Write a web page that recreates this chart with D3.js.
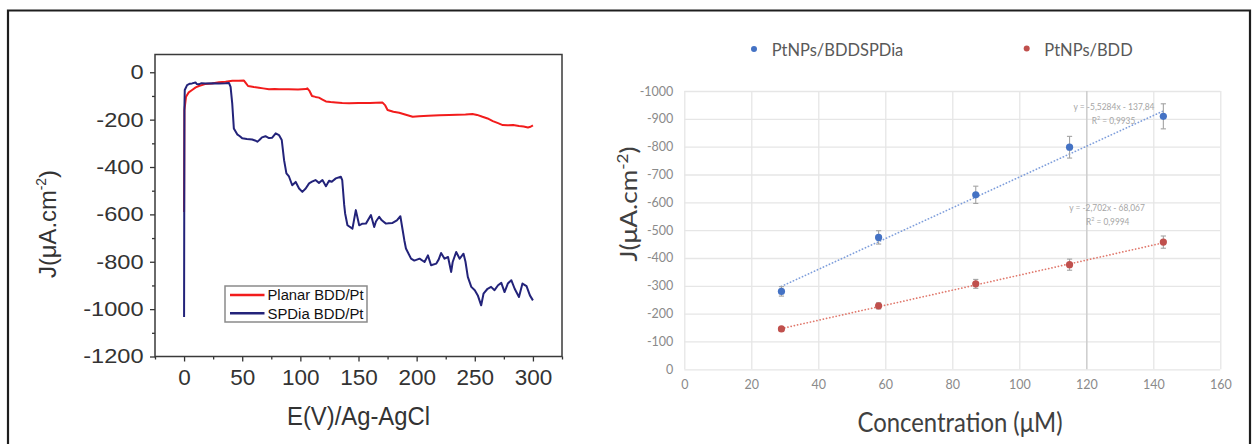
<!DOCTYPE html>
<html><head><meta charset="utf-8">
<script src="https://cdn.jsdelivr.net/npm/d3@7"></script>
<style>body{margin:0;background:#fff}svg{display:block}</style>
</head><body>
<svg id="c" width="1255" height="444"></svg>
<script>
// ---------- Left chart data ----------
const leftSeries = ["Planar BDD/Pt", "SPDia BDD/Pt"];
const planarX = [0,0.3,1.7,4,6.9,10,12.7,18,24,30,35.7,41.5,47,51.5,53,55,60,64.4,68,73,78,81.6,90,98,104.6,106,108,110,113,116,119,122,126,130.5,136,142,150,160,165,170.7,173,175,180,185,190,196.6,202,210,219.6,228,235,242,248,252,256.6,261,265.5,270,274,278,283,288,292,295.7,298,300];
const planarY = [-590,-160,-103,-85,-75,-64,-58,-50,-47,-42,-40,-36,-36,-35,-45,-58,-62,-65,-68,-72,-71,-72,-72,-73,-71,-68,-80,-100,-104,-107,-115,-123,-126,-128,-130,-131,-130,-130,-129,-128,-140,-159,-167,-171,-178,-188,-186,-184,-182,-180,-179,-178,-176,-180,-188,-195,-206,-215,-223,-224,-223,-227,-229,-233,-230,-224];
const spdiaX = [0,0.3,0.6,2.6,5,6.9,9.8,11,12.7,15,18.5,25,30,35.7,38.6,40,41.4,42.8,45.7,48,50,54,58.6,61,63,65,67,70,73,75.8,78.8,81.6,84,86,88,90.2,93,96,98.9,101.7,104.6,107.5,110,113,116,119,122,124.7,127,130.5,134.8,136,137.7,138.5,140.5,144.8,147.7,150.6,153,156.4,160.7,163.5,165,167.8,170,173.6,176,179.3,183,186,188,189.4,190.8,195.2,198,202.5,206.8,209.7,212.4,216.8,219,221,224,227,229.7,231,234,237,240.3,242,244,247,250,252.6,255.5,257.5,261,264,267,270,272.8,275.6,278.4,281.4,284.3,288,291,294.5,297.4,300];
const spdiaY = [-1033,-150,-75,-54,-48,-47,-43,-50,-51,-46,-47,-46,-47,-46,-45,-62,-131,-237,-262,-270,-279,-282,-284,-288,-293,-285,-275,-270,-278,-276,-258,-265,-286,-371,-427,-440,-477,-463,-491,-505,-491,-469,-462,-455,-467,-455,-481,-458,-462,-448,-441,-455,-560,-596,-646,-660,-582,-646,-640,-639,-603,-653,-630,-610,-625,-639,-637,-636,-625,-608,-667,-709,-744,-787,-795,-787,-801,-773,-815,-808,-790,-763,-787,-780,-843,-801,-759,-787,-766,-800,-864,-906,-920,-942,-984,-935,-914,-906,-920,-899,-889,-928,-892,-878,-914,-949,-892,-903,-942,-963];
const leftYTicks = [-1200,-1000,-800,-600,-400,-200,0];
const leftYMinor = [-1100,-900,-700,-500,-300,-100];
const leftXTicks = [0,50,100,150,200,250,300];
const leftXMinor = [-25,25,75,125,175,225,275,325];

// ---------- Right chart data ----------
const rightSeries = ["PtNPs/BDDSPDia", "PtNPs/BDD"];
const conc = [29,58,87,115,143];
const spdiaJ = [-280,-474,-627,-798,-909];
const spdiaErr = [17,24,31,39,45];
const bddJ = [-145,-228,-307,-376,-457];
const bddErr = [7,11,16,20,22];
const fitSlope = [-5.5284, -2.702];
const fitIntercept = [-137.84, -68.067];
const fitEq = ["y = -5,5284x - 137,84", "y = -2,702x - 68,067"];
const fitR2 = ["0,9935", "0,9994"];
const rightYTicks = [0,-100,-200,-300,-400,-500,-600,-700,-800,-900,-1000];
const rightXTicks = [0,20,40,60,80,100,120,140,160];

const svg = d3.select("#c");
const LF = "'Liberation Sans', Arial, sans-serif";
const RF = "Lato, 'Open Sans', sans-serif";

// outer frame
svg.append("path").attr("d","M8,444 V10.5 H1250 V444").attr("fill","none").attr("stroke","#1e1e1e").attr("stroke-width",2.2);

// ================= LEFT CHART =================
const xL = d3.scaleLinear([-25,325],[155,562]);
const yL = d3.scaleLinear([-1200,75],[356.5,54.5]);
const gL = svg.append("g");

const yAx = gL.append("g").attr("transform","translate(155,0)")
  .call(d3.axisLeft(yL).tickValues(leftYTicks).tickSize(5).tickPadding(6.5).tickFormat(d=>String(d)));
gL.append("g").attr("transform","translate(155,0)")
  .call(d3.axisLeft(yL).tickValues(leftYMinor).tickSize(3).tickFormat(""));
const xAx = gL.append("g").attr("transform","translate(0,356.5)")
  .call(d3.axisBottom(xL).tickValues(leftXTicks).tickSize(5).tickPadding(8).tickFormat(d=>String(d)));
gL.append("g").attr("transform","translate(0,356.5)")
  .call(d3.axisBottom(xL).tickValues(leftXMinor).tickSize(3).tickFormat(""));
gL.selectAll(".domain").remove();
gL.selectAll(".tick line").attr("stroke","#333").attr("stroke-width",1.3);
yAx.selectAll("text").attr("font-family",LF).attr("font-size",20).attr("fill","#333")
  .each(function(){ const w=this.getComputedTextLength(); d3.select(this).attr("textLength",w*1.18).attr("lengthAdjust","spacingAndGlyphs"); });
xAx.selectAll("text").attr("font-family",LF).attr("font-size",22.5).attr("fill","#333");

gL.append("rect").attr("x",xL(-25)).attr("y",yL(75)).attr("width",xL(325)-xL(-25)).attr("height",yL(-1200)-yL(75))
  .attr("fill","none").attr("stroke","#3a3a3a").attr("stroke-width",1.5);

const lineL = (X,Y)=>d3.line().x(i=>xL(X[i])).y(i=>yL(Y[i]))(d3.range(X.length));
gL.append("path").attr("d",lineL(planarX,planarY)).attr("fill","none").attr("stroke","#f21c1c").attr("stroke-width",2).attr("stroke-linejoin","round");
gL.append("path").attr("d",lineL(spdiaX,spdiaY)).attr("fill","none").attr("stroke","#23237a").attr("stroke-width",2).attr("stroke-linejoin","round");

// legend
const lg = gL.append("g");
lg.append("rect").attr("x",225).attr("y",286).attr("width",142).attr("height",36).attr("fill","#fff").attr("stroke","#8a8a8a").attr("stroke-width",1.5);
const lgCol = ["#f21c1c","#23237a"];
leftSeries.forEach((s,i)=>{
  const yy = 295 + i*18.3;
  lg.append("line").attr("x1",230).attr("x2",264.5).attr("y1",yy).attr("y2",yy).attr("stroke",lgCol[i]).attr("stroke-width",2.5);
  lg.append("text").attr("x",267.5).attr("y",yy+5.2).attr("font-family",LF).attr("font-size",14).attr("fill","#111")
    .attr("textLength",96).attr("lengthAdjust","spacingAndGlyphs").text(s);
});

// axis titles
const ytL = gL.append("text").attr("transform","translate(56,224) rotate(-90)").attr("text-anchor","middle")
  .attr("font-family",LF).attr("font-size",24).attr("fill","#333").attr("textLength",108).attr("lengthAdjust","spacingAndGlyphs");
ytL.append("tspan").text("J(μA.cm");
ytL.append("tspan").attr("font-size",14).attr("dy",-10).text("-2");
ytL.append("tspan").attr("dy",10).text(")");
gL.append("text").attr("x",358.5).attr("y",425).attr("text-anchor","middle").attr("font-family",LF).attr("font-size",25)
  .attr("fill","#333").attr("textLength",143).attr("lengthAdjust","spacingAndGlyphs").text("E(V)/Ag-AgCl");

// ================= RIGHT CHART =================
const xR = d3.scaleLinear([0,160],[684.3,1220.3]);
const yR = d3.scaleLinear([0,-1000],[369.3,91]);
const gR = svg.append("g");
const W = xR(160)-xR(0), H = yR(0)-yR(-1000);

const yAxR = gR.append("g").attr("transform",`translate(${xR(0)},0)`)
  .call(d3.axisLeft(yR).tickValues(rightYTicks).tickSize(-W).tickPadding(11).tickFormat(d=>String(d)));
const xAxR = gR.append("g").attr("transform",`translate(0,${yR(0)})`)
  .call(d3.axisBottom(xR).tickValues(rightXTicks).tickSize(-H).tickPadding(11).tickFormat(d=>String(d)));
gR.selectAll(".domain").remove();
gR.selectAll(".tick line").attr("stroke","#e6e6e6").attr("stroke-width",1.3);
xAxR.selectAll(".tick line").filter(d=>d===120).attr("stroke","#cfcfcf").attr("stroke-width",1.6);
gR.selectAll(".tick text").attr("font-family",RF).attr("font-size",12.5).attr("fill","#8a8a8a");

// trendlines
const trendCol = ["#7d9ddb","#e0786c"];
const markCol = ["#4472c4","#c0504d"];
[0,1].forEach(k=>{
  const x0 = d3.min(conc), x1 = d3.max(conc);
  gR.append("line").attr("x1",xR(x0)).attr("y1",yR(fitSlope[k]*x0+fitIntercept[k]))
    .attr("x2",xR(x1)).attr("y2",yR(fitSlope[k]*x1+fitIntercept[k]))
    .attr("stroke",trendCol[k]).attr("stroke-width",1.7).attr("stroke-dasharray","0.1,3.2").attr("stroke-linecap","round");
});

// error bars + markers
const drawSeries = (J,E,k)=>{
  const g = gR.append("g");
  conc.forEach((c,i)=>{
    const cx = xR(c), ya = yR(J[i]-E[i]), yb = yR(J[i]+E[i]);
    g.append("line").attr("x1",cx).attr("x2",cx).attr("y1",ya).attr("y2",yb).attr("stroke","#a3a3a3").attr("stroke-width",1.1);
    [ya,yb].forEach(yy=>g.append("line").attr("x1",cx-2.6).attr("x2",cx+2.6).attr("y1",yy).attr("y2",yy).attr("stroke","#a3a3a3").attr("stroke-width",1.1));
    g.append("circle").attr("cx",cx).attr("cy",yR(J[i])).attr("r",3.6).attr("fill",markCol[k]);
  });
};
drawSeries(spdiaJ,spdiaErr,0);
drawSeries(bddJ,bddErr,1);

// equation labels
const eqPos = [[1114,110,81],[1107,211,75.7]];
const r2Pos = [[1113.5,124,43.5],[1107.7,224.5,43.3]];
[0,1].forEach(k=>{
  gR.append("text").attr("x",eqPos[k][0]).attr("y",eqPos[k][1]).attr("text-anchor","middle")
    .attr("font-family",RF).attr("font-size",10).attr("fill","#a6a6a6")
    .attr("textLength",eqPos[k][2]).attr("lengthAdjust","spacingAndGlyphs").text(fitEq[k]);
  const t = gR.append("text").attr("x",r2Pos[k][0]).attr("y",r2Pos[k][1]).attr("text-anchor","middle")
    .attr("font-family",RF).attr("font-size",10).attr("fill","#a6a6a6")
    .attr("textLength",r2Pos[k][2]).attr("lengthAdjust","spacingAndGlyphs");
  t.append("tspan").text("R");
  t.append("tspan").attr("font-size",6.5).attr("dy",-4).text("2");
  t.append("tspan").attr("dy",4).text(" = "+fitR2[k]);
});

// legend
const lgR = [[754,49,771.7,131.6],[1026.7,48.5,1044.3,88.4]];
rightSeries.forEach((s,k)=>{
  gR.append("circle").attr("cx",lgR[k][0]).attr("cy",lgR[k][1]).attr("r",3).attr("fill",markCol[k]);
  gR.append("text").attr("x",lgR[k][2]).attr("y",55.5).attr("font-family",RF).attr("font-size",18).attr("fill","#595959")
    .attr("textLength",lgR[k][3]).attr("lengthAdjust","spacingAndGlyphs").text(s);
});

// axis titles
const ytR = gR.append("text").attr("transform","translate(637,204) rotate(-90)").attr("text-anchor","middle")
  .attr("font-family",RF).attr("font-size",23).attr("fill","#404040").attr("textLength",115).attr("lengthAdjust","spacingAndGlyphs");
ytR.append("tspan").text("J(μA.cm");
ytR.append("tspan").attr("font-size",15).attr("dy",-9).text("-2");
ytR.append("tspan").attr("dy",9).text(")");
gR.append("text").attr("x",960).attr("y",431.5).attr("text-anchor","middle").attr("font-family",RF).attr("font-size",26)
  .attr("fill","#404040").attr("textLength",205).attr("lengthAdjust","spacingAndGlyphs").text("Concentration (μM)");
</script>
</body></html>
